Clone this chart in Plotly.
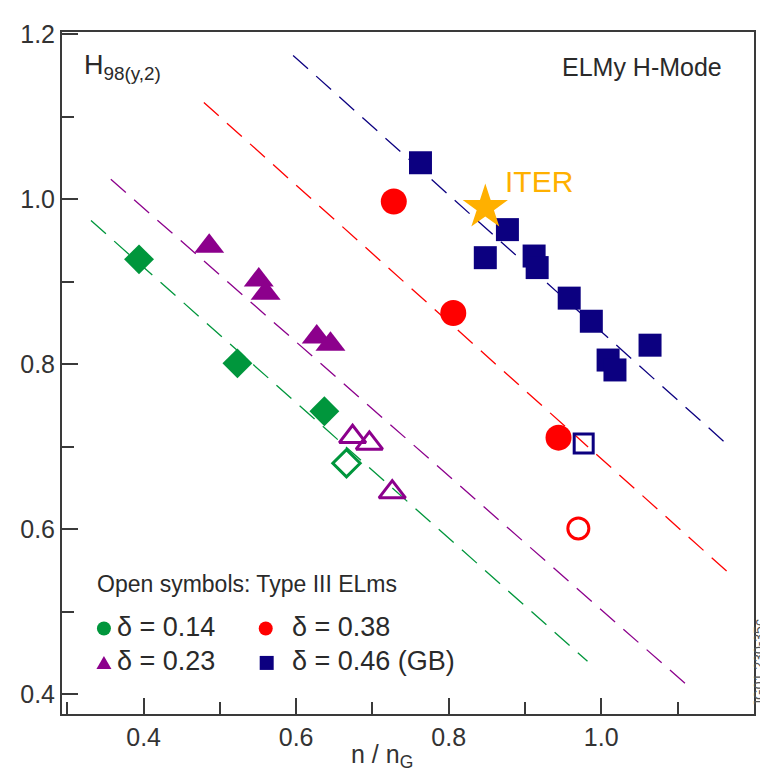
import plotly.graph_objects as go

# ---- data ----
green_x = [0.394, 0.523, 0.637]
green_y = [0.927, 0.801, 0.743]
green_open_x = [0.666]
green_open_y = [0.680]

purple_x = [0.486, 0.551, 0.560, 0.627, 0.645]
purple_y = [0.943, 0.902, 0.886, 0.833, 0.824]
purple_open_x = [0.674, 0.696, 0.726]
purple_open_y = [0.712, 0.704, 0.645]

red_x = [0.728, 0.806, 0.944]
red_y = [0.997, 0.862, 0.711]
red_open_x = [0.970]
red_open_y = [0.601]

blue_x = [0.763, 0.877, 0.848, 0.912, 0.916, 0.958, 0.987, 1.009, 1.018, 1.064]
blue_y = [1.044, 0.963, 0.929, 0.931, 0.917, 0.880, 0.852, 0.805, 0.793, 0.823]
blue_open_x = [0.977]
blue_open_y = [0.704]

iter_x = [0.848]
iter_y = [0.990]

# dashed trend lines (endpoints)
fit_green_x = [0.331, 0.982]
fit_green_y = [0.974, 0.440]
fit_purple_x = [0.357, 1.114]
fit_purple_y = [1.024, 0.410]
fit_red_x = [0.479, 1.166]
fit_red_y = [1.117, 0.548]
fit_blue_x = [0.596, 1.166]
fit_blue_y = [1.174, 0.702]

x_ticks = [0.4, 0.6, 0.8, 1.0, 1.2]
y_ticks = [0.4, 0.6, 0.8, 1.0, 1.2]

legend_labels = ["δ = 0.14", "δ = 0.38", "δ = 0.23", "δ = 0.46 (GB)"]

# ---- styles ----
GREEN = "rgb(0,150,60)"
PURPLE = "rgb(140,0,140)"
RED = "rgb(255,0,0)"
BLUE = "rgb(12,0,128)"
ORANGE = "rgb(255,176,0)"
FONT = "Liberation Sans, Arial, sans-serif"
TXT = "#2a2a2a"

fig = go.Figure()

dash = "20px,11px"
for fx, fy, c in [(fit_green_x, fit_green_y, GREEN), (fit_purple_x, fit_purple_y, PURPLE),
                  (fit_red_x, fit_red_y, RED), (fit_blue_x, fit_blue_y, BLUE)]:
    fig.add_trace(go.Scatter(x=fx, y=fy, mode="lines",
                             line=dict(color=c, width=1.3, dash=dash), hoverinfo="skip"))

def pts(x, y, sym, c, size, open_=False):
    fig.add_trace(go.Scatter(
        x=x, y=y, mode="markers",
        marker=dict(symbol=sym + ("-open" if open_ else ""), size=size, color=c,
                    line=dict(color=c, width=3 if open_ else 0))))

pts(green_x, green_y, "diamond", GREEN, 23)
pts(green_open_x, green_open_y, "diamond", GREEN, 21, True)
pts(purple_x, purple_y, "triangle-up", PURPLE, 26)
pts(purple_open_x, purple_open_y, "triangle-up", PURPLE, 23, True)
pts(red_x, red_y, "circle", RED, 26)
pts(red_open_x, red_open_y, "circle", RED, 21, True)
pts(blue_x, blue_y, "square", BLUE, 23)
pts(blue_open_x, blue_open_y, "square", BLUE, 19, True)
pts(iter_x, iter_y, "star", ORANGE, 34)

axis_common = dict(
    showline=True, linecolor="#3a3a3a", linewidth=2, mirror=True,
    ticks="inside", ticklen=16, tickwidth=1.5, tickcolor="#3a3a3a",
    showgrid=False, zeroline=False, tickformat=".1f",
    tickfont=dict(family=FONT, size=25, color="#333"),
    minor=dict(ticks="inside", ticklen=12, tickwidth=1.5, tickcolor="#3a3a3a", dtick=0.1),
)

fig.update_xaxes(range=[0.293, 1.2003], tickvals=x_ticks, **axis_common)
fig.update_yaxes(range=[0.3762, 1.2024], tickvals=y_ticks, **axis_common)

ann = []
ann.append(dict(x=0.029, y=0.948, xref="paper", yref="paper", xanchor="left", yanchor="middle",
                text="H<sub>98(y,2)</sub>", showarrow=False,
                font=dict(family=FONT, size=27, color=TXT)))
ann.append(dict(x=0.956, y=0.949, xref="paper", yref="paper", xanchor="right", yanchor="middle",
                text="ELMy H-Mode", showarrow=False,
                font=dict(family=FONT, size=25, color=TXT)))
ann.append(dict(x=0.871, y=1.021, xref="x", yref="y", xanchor="left", yanchor="middle",
                text="ITER", showarrow=False,
                font=dict(family=FONT, size=30, color=ORANGE)))
ann.append(dict(x=0.048, y=0.190, xref="paper", yref="paper", xanchor="left", yanchor="middle",
                text="Open symbols: Type III ELms", showarrow=False,
                font=dict(family=FONT, size=23, color=TXT)))

leg_pos = [(0.077, 0.127), (0.330, 0.127), (0.077, 0.077), (0.330, 0.077)]
for lab, (px, py) in zip(legend_labels, leg_pos):
    ann.append(dict(x=px, y=py, xref="paper", yref="paper", xanchor="left", yanchor="middle",
                    text=lab, showarrow=False, font=dict(family=FONT, size=27, color=TXT)))

ann.append(dict(x=0.462, y=-0.062, xref="paper", yref="paper", xanchor="center", yanchor="middle",
                text="n / n<sub>G</sub>", showarrow=False,
                font=dict(family=FONT, size=25, color="#333")))
ann.append(dict(x=1.0075, y=0.075, xref="paper", yref="paper", xanchor="center", yanchor="middle",
                text="JG01.230-35c", textangle=-90, showarrow=False,
                font=dict(family=FONT, size=14, color="#555")))

shapes = [
    dict(type="circle", xref="paper", yref="paper", xsizemode="pixel", ysizemode="pixel",
         xanchor=0.0606, yanchor=0.1254, x0=-7, x1=7, y0=-7, y1=7,
         fillcolor=GREEN, line=dict(width=0)),
    dict(type="circle", xref="paper", yref="paper", xsizemode="pixel", ysizemode="pixel",
         xanchor=0.2944, yanchor=0.1254, x0=-7, x1=7, y0=-7, y1=7,
         fillcolor=RED, line=dict(width=0)),
    dict(type="path", xref="paper", yref="paper", xsizemode="pixel", ysizemode="pixel",
         xanchor=0.0606, yanchor=0.0749, path="M -7.5 -6 L 7.5 -6 L 0 7 Z",
         fillcolor=PURPLE, line=dict(width=0)),
    dict(type="rect", xref="paper", yref="paper", xsizemode="pixel", ysizemode="pixel",
         xanchor=0.2958, yanchor=0.0749, x0=-7, x1=7, y0=-7, y1=7,
         fillcolor=BLUE, line=dict(width=0)),
]

# page body has an 8px default margin: shrink figure and shift margins to compensate
fig.update_layout(
    width=760, height=765,
    margin=dict(l=53, r=14, t=12, b=59),
    plot_bgcolor="white", paper_bgcolor="white",
    showlegend=False, annotations=ann, shapes=shapes,
)

fig.write_html("out.html")
